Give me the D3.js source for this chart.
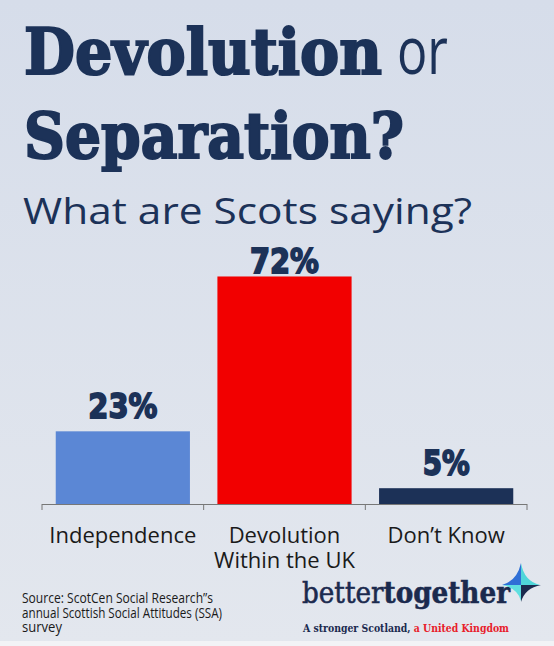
<!DOCTYPE html>
<html lang="en">
<head>
  <meta charset="UTF-8">
  <title>Devolution or Separation?</title>
  <style>
    body, html {
      margin: 0;
      padding: 0;
      background-color: #dce2ed;
    }
    #svg {
      display: block;
    }
  </style>
</head>
<body>
  <svg id="svg" width="554" height="646"></svg>
  <script src="https://d3js.org/d3.v7.min.js"></script>
  <script>
    const categories = ['Independence', 'Devolution Within the UK', 'Don\u2019t Know']
    const labelLines = [['Independence'], ['Devolution', 'Within the UK'], ['Don\u2019t Know']]
    const values = [23, 72, 5]
    const barColors = ['#5b87d5', '#f20000', '#1c3157']
    const sourceLines = [
      'Source: ScotCen Social Research\u201ds',
      'annual Scottish Social Attitudes (SSA)',
      'survey'
    ]

    const navy = '#1c3258'
    const width = 554
    const height = 646
    const svg = d3.select('#svg')

    // background
    const defs = svg.append('defs')
    const grad = defs.append('linearGradient')
      .attr('id', 'bg')
      .attr('x1', 0).attr('y1', 0).attr('x2', 0).attr('y2', 1)
    grad.append('stop').attr('offset', '0%').attr('stop-color', '#d6ddea')
    grad.append('stop').attr('offset', '100%').attr('stop-color', '#e3e7ee')
    svg.append('rect')
      .attr('width', width).attr('height', height)
      .attr('fill', 'url(#bg)')
    svg.append('rect')
      .attr('y', 641).attr('width', width).attr('height', 5)
      .attr('fill', '#f2f3f6')

    // titles
    svg.append('text')
      .attr('x', 24).attr('y', 74)
      .attr('fill', navy)
      .attr('stroke', navy)
      .attr('stroke-width', 2.2)
      .attr('font-family', 'DejaVu Serif')
      .attr('font-weight', 'bold')
      .attr('font-size', 64)
      .attr('textLength', 358)
      .attr('lengthAdjust', 'spacingAndGlyphs')
      .text('Devolution')
    svg.append('text')
      .attr('x', 397).attr('y', 74)
      .attr('fill', navy)
      .attr('font-family', 'Open Sans')
      .attr('font-size', 66)
      .attr('textLength', 51)
      .attr('lengthAdjust', 'spacingAndGlyphs')
      .text('or')
    svg.append('text')
      .attr('x', 24).attr('y', 158)
      .attr('fill', navy)
      .attr('stroke', navy)
      .attr('stroke-width', 2.2)
      .attr('font-family', 'DejaVu Serif')
      .attr('font-weight', 'bold')
      .attr('font-size', 64)
      .attr('textLength', 380)
      .attr('lengthAdjust', 'spacingAndGlyphs')
      .text('Separation?')
    svg.append('text')
      .attr('x', 23).attr('y', 224)
      .attr('fill', navy)
      .attr('font-family', 'Open Sans')
      .attr('font-size', 37)
      .attr('textLength', 449)
      .attr('lengthAdjust', 'spacingAndGlyphs')
      .text('What are Scots saying?')

    // scales
    const x = d3.scaleBand()
      .domain(categories)
      .range([42, 527])
      .paddingInner(0.17)
      .paddingOuter(0.085)
    const y = d3.scaleLinear()
      .domain([0, 100])
      .range([504, 188])

    svg.append('g')
      .selectAll('rect')
      .data(values)
      .enter()
      .append('rect')
      .attr('x', (d, i) => x(categories[i]))
      .attr('y', d => y(d))
      .attr('width', x.bandwidth())
      .attr('height', d => y(0) - y(d))
      .attr('fill', (d, i) => barColors[i])

    // value labels
    svg.append('g')
      .selectAll('text')
      .data(values)
      .enter()
      .append('text')
      .attr('x', (d, i) => x(categories[i]) + x.bandwidth() / 2)
      .attr('y', d => Math.max(y(d) - 13, 273))
      .attr('text-anchor', 'middle')
      .attr('fill', navy)
      .attr('stroke', navy)
      .attr('stroke-width', 1.8)
      .attr('font-family', 'DejaVu Sans')
      .attr('font-weight', 'bold')
      .attr('font-size', 34)
      .attr('textLength', d => d < 10 ? 47 : 69)
      .attr('lengthAdjust', 'spacingAndGlyphs')
      .text(d => d + '%')

    // axis line + ticks at band edges
    const [x0, x1] = x.range()
    const edges = d3.range(categories.length + 1).map(i => x0 + i * x.step())
    const axis = svg.append('g').attr('stroke', '#777').attr('stroke-width', 1)
    axis.append('line')
      .attr('x1', x0).attr('x2', x1)
      .attr('y1', y(0) + 0.5).attr('y2', y(0) + 0.5)
    axis.selectAll('line.tick')
      .data(edges)
      .enter()
      .append('line')
      .attr('class', 'tick')
      .attr('x1', d => d).attr('x2', d => d)
      .attr('y1', y(0)).attr('y2', y(0) + 6)

    // category labels
    const catLabels = svg.append('g')
      .selectAll('text')
      .data(categories)
      .enter()
      .append('text')
      .attr('x', d => x(d) + x.bandwidth() / 2)
      .attr('y', y(0) + 39)
      .attr('text-anchor', 'middle')
      .attr('fill', '#1a1a1a')
      .attr('font-family', 'Open Sans')
      .attr('font-size', 22)
    catLabels.selectAll('tspan')
      .data((d, i) => labelLines[i].map(l => ({ l, cx: x(d) + x.bandwidth() / 2 })))
      .enter()
      .append('tspan')
      .attr('x', d => d.cx)
      .attr('dy', (d, i) => i === 0 ? 0 : 25)
      .text(d => d.l)

    // source
    const sourceWidths = [191, 200, 40]
    svg.append('g')
      .selectAll('text')
      .data(sourceLines)
      .enter()
      .append('text')
      .attr('x', 22)
      .attr('y', (d, i) => 603 + i * 14.5)
      .attr('fill', '#1a1a1a')
      .attr('font-family', 'Open Sans')
      .attr('font-size', 15)
      .attr('textLength', (d, i) => sourceWidths[i])
      .attr('lengthAdjust', 'spacingAndGlyphs')
      .text(d => d)

    // logo
    const logo = svg.append('text')
      .attr('x', 302).attr('y', 603)
      .attr('fill', '#1b2a4e')
      .attr('font-family', 'DejaVu Serif')
      .attr('font-size', 30)
      .attr('stroke', '#1b2a4e')
      .attr('stroke-width', 0.6)
      .attr('textLength', 208)
      .attr('lengthAdjust', 'spacingAndGlyphs')
    logo.append('tspan').text('better')
    logo.append('tspan').attr('font-weight', 'bold').text('together')

    const tag = svg.append('text')
      .attr('x', 303).attr('y', 632)
      .attr('font-family', 'DejaVu Serif')
      .attr('font-weight', 'bold')
      .attr('font-size', 11.5)
      .attr('textLength', 206)
      .attr('lengthAdjust', 'spacingAndGlyphs')
    tag.append('tspan').attr('fill', '#1b2a4e').text('A stronger Scotland, ')
    tag.append('tspan').attr('fill', '#e8202a').text('a United Kingdom')

    // star mark
    const cx = 521, cy = 585
    const star = svg.append('g').attr('transform', `translate(${cx},${cy})`)
    star.append('path').attr('d', 'M0,-22 L0,0 L-19,0 Q-4,-4 0,-22Z').attr('fill', '#2f6fd6')
    star.append('path').attr('d', 'M0,-22 Q3,-4 19,0 L0,0Z').attr('fill', '#4fd6da')
    star.append('path').attr('d', 'M-19,0 L0,0 L0,16 Q-3,3 -19,0Z').attr('fill', '#5fdfe0')
    star.append('path').attr('d', 'M0,0 L20,0 Q4,3 0,17Z').attr('fill', '#1b2a4e')
  </script>
</body>
</html>
